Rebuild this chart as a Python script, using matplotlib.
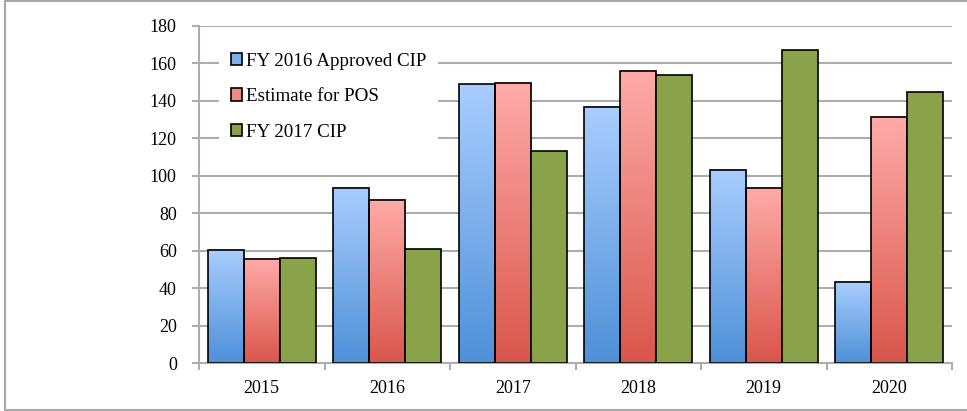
import matplotlib
matplotlib.use("Agg")
import matplotlib.pyplot as plt
import numpy as np
from matplotlib.patches import Rectangle, Patch
from matplotlib.lines import Line2D
from matplotlib.colors import LinearSegmentedColormap

categories = ["2015", "2016", "2017", "2018", "2019", "2020"]
series_names = ["FY 2016 Approved CIP", "Estimate for POS", "FY 2017 CIP"]
fy2016_approved = [60.5, 93.6, 148.8, 136.9, 103.4, 43.4]
estimate_pos = [55.9, 87.0, 149.5, 156.2, 93.4, 131.7]
fy2017_cip = [56.0, 61.0, 113.4, 153.9, 167.3, 144.9]
yticks = [0, 20, 40, 60, 80, 100, 120, 140, 160, 180]

plt.rcParams['font.family'] = ['Liberation Serif', 'DejaVu Serif']

fig = plt.figure(figsize=(9.67, 4.11), dpi=100)
ax = fig.add_axes([199/967, (411-363.3)/411, (952-199)/967, (363.3-26)/411])

grid_c = '#ADADAD'
blue_cmap = LinearSegmentedColormap.from_list('b', ['#4E90D8', '#A9CDFE'])
red_cmap = LinearSegmentedColormap.from_list('r', ['#D9564B', '#FFABA8'])
green = '#8AA24A'

x = np.arange(len(categories))
w = 0.287
offsets = [-w, 0, w]
data = [fy2016_approved, estimate_pos, fy2017_cip]
grad = np.linspace(0, 1, 256).reshape(-1, 1)

for si, vals in enumerate(data):
    for xi, v in zip(x, vals):
        x0 = xi + offsets[si] - w / 2
        if si < 2:
            cmap = blue_cmap if si == 0 else red_cmap
            ax.imshow(grad, cmap=cmap, origin='lower', aspect='auto',
                      extent=[x0, x0 + w, 0, v], zorder=2, interpolation='bilinear')
            ax.add_patch(Rectangle((x0, 0), w, v, facecolor='none',
                                   edgecolor='black', lw=1.2, zorder=3))
        else:
            ax.add_patch(Rectangle((x0, 0), w, v, facecolor=green,
                                   edgecolor='black', lw=1.2, zorder=3))

ax.set_xlim(-0.5, len(categories) - 0.5)
ax.set_ylim(0, 180)

ax.set_yticks(yticks)
ax.yaxis.grid(True, color=grid_c, lw=1.5, zorder=0)
ax.set_axisbelow(True)
ax.tick_params(axis='y', length=5, width=1.5, color=grid_c, pad=11, labelsize=13)

ax.set_xticks(x)
ax.set_xticklabels(categories)
ax.set_xticks(np.arange(-0.5, len(categories)), minor=True)
ax.tick_params(axis='x', which='major', length=0, pad=12, labelsize=13)
ax.tick_params(axis='x', which='minor', length=5, width=1.5, color=grid_c)

for s in ['top', 'right']:
    ax.spines[s].set_visible(False)
for s in ['left', 'bottom']:
    ax.spines[s].set_color(grid_c)
    ax.spines[s].set_linewidth(1.5)

handles = [Patch(facecolor='#7FB0EE', edgecolor='black', lw=1.2),
           Patch(facecolor='#F28A84', edgecolor='black', lw=1.2),
           Patch(facecolor=green, edgecolor='black', lw=1.2)]
leg = ax.legend(handles, series_names, loc='upper left',
                bbox_to_anchor=(0.027, 0.955), fontsize=13.7,
                frameon=True, fancybox=False, framealpha=1,
                edgecolor='none', facecolor='white',
                handlelength=0.6, handleheight=0.6, handletextpad=0.22,
                labelspacing=0.98, borderpad=0.6, borderaxespad=0)
leg.set_zorder(5)

bc = '#A8A8A8'
fig.lines.append(Line2D([4.5/967, 4.5/967], [1.5/411, 409.5/411], transform=fig.transFigure, color=bc, lw=1.5))
fig.lines.append(Line2D([4.5/967, 1.0], [409.5/411, 409.5/411], transform=fig.transFigure, color=bc, lw=1.5))
fig.lines.append(Line2D([4.5/967, 1.0], [1.5/411, 1.5/411], transform=fig.transFigure, color=bc, lw=1.5))

fig.savefig('out.png', dpi=100)
